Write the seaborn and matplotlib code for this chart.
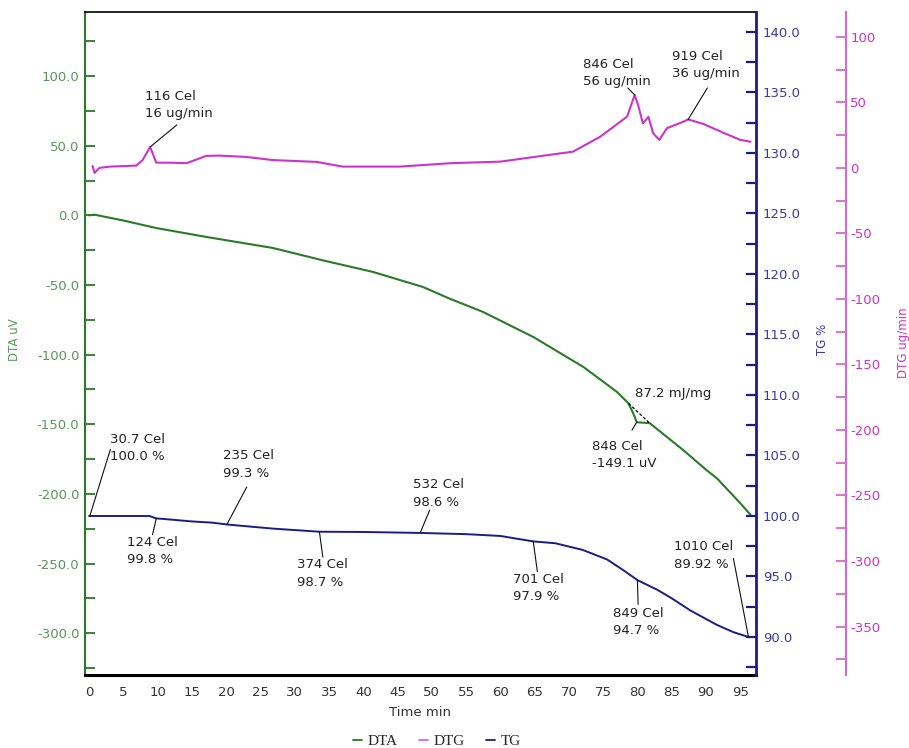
import numpy as np
import matplotlib
matplotlib.use("Agg")
import matplotlib.pyplot as plt
from matplotlib.ticker import MultipleLocator, FormatStrFormatter
from matplotlib.lines import Line2D
import seaborn as sns

dta_time = [0.0, 0.8, 4.9, 9.8, 17.1, 26.8, 34.1, 41.4, 48.7, 52.6, 57.5,
            64.8, 72.1, 77.0, 78.7, 79.4, 79.9, 81.8, 86.7, 90.1, 91.6, 95.0, 96.5]
dta_uv = [0.0, 0.5, -3.6, -9.1, -15.5, -23.4, -32.3, -40.6, -51.4, -59.8, -69.4,
          -87.3, -108.8, -126.7, -135.0, -142.3, -148.5, -149.2, -168.6, -183.0, -188.8, -206.6, -215.0]

dtg_time = [0.5, 0.8, 1.5, 3.0, 6.9, 7.8, 8.9, 9.8, 12.0, 14.2, 17.1, 19.0, 22.9, 26.8, 33.2,
            37.0, 45.3, 52.7, 60.0, 67.2, 70.6, 74.6, 78.5, 79.6, 80.1, 80.8, 81.6, 82.3,
            83.2, 84.3, 86.7, 87.4, 89.6, 92.6, 95.0, 96.5]
dtg_rate = [1.5, -3.8, 0.0, 1.0, 1.8, 6.0, 16.0, 4.0, 4.0, 3.6, 9.2, 9.4, 8.4, 6.0, 4.6,
            1.0, 1.0, 3.6, 4.8, 10.0, 12.4, 23.9, 39.2, 55.7, 48.0, 34.0, 39.0, 26.4,
            21.4, 30.3, 35.3, 37.0, 33.6, 26.7, 21.4, 20.0]

tg_time = [0.0, 8.8, 9.8, 11.0, 15.0, 18.0, 20.1, 24.0, 27.0, 31.0, 33.6, 40.0, 48.3, 55.0,
           60.0, 64.8, 68.0, 72.0, 75.6, 78.0, 80.0, 82.9, 85.0, 87.7, 91.6, 94.0, 96.2]
tg_pct = [100.0, 100.0, 99.8, 99.75, 99.55, 99.45, 99.3, 99.1, 98.95, 98.8, 98.7, 98.68, 98.6, 98.5,
          98.35, 97.9, 97.75, 97.2, 96.4, 95.5, 94.7, 93.9, 93.2, 92.2, 91.0, 90.4, 90.0]

# linea base del pico DTA (indices en dta_time)
pico_inicio, pico_fin = 14, 17

# etiquetas: (texto, posicion texto, inicio linea, punto en curva)
notas_dtg = [
    ("116 Cel\n16 ug/min", (8.1, 59.5), (12.8, 32.8), (8.9, 16.0)),
    ("846 Cel\n56 ug/min", (72.1, 84.0), (78.6, 61.0), (79.6, 55.7)),
    ("919 Cel\n36 ug/min", (85.1, 90.0), (90.2, 61.0), (87.4, 37.0)),
]
notas_dta = [
    ("848 Cel\n-149.1 uV", (73.4, -161.0), (79.2, -154.2), (79.9, -148.5)),
]
notas_tg = [
    ("30.7 Cel\n100.0 %", (3.0, 106.9), (3.1, 105.5), (0.1, 100.0)),
    ("235 Cel\n99.3 %", (19.5, 105.5), (23.0, 102.4), (20.1, 99.3)),
    ("124 Cel\n99.8 %", (5.6, 98.35), (9.25, 98.45), (9.8, 99.8)),
    ("374 Cel\n98.7 %", (30.4, 96.5), (34.1, 96.6), (33.6, 98.7)),
    ("532 Cel\n98.6 %", (47.2, 103.1), (49.7, 100.5), (48.3, 98.6)),
    ("701 Cel\n97.9 %", (61.8, 95.3), (65.4, 95.4), (64.8, 97.9)),
    ("849 Cel\n94.7 %", (76.4, 92.5), (80.1, 92.7), (80.0, 94.7)),
    ("1010 Cel\n89.92 %", (85.4, 98.0), (94.0, 96.5), (96.2, 90.0)),
]

c_dta = "#2a7a2a"
c_dta_txt = "#5b965b"
c_tg = "#1c1c86"
c_tg_txt = "#3a3aa6"
c_dtg = "#cc33cc"
c_dtg_ax = "#d668d6"

sns.set_style("white")
plt.rcParams['font.family'] = ['DejaVu Sans']
plt.rcParams['axes.unicode_minus'] = False

fig = plt.figure(figsize=(9.09, 7.48), dpi=100)
ax = fig.add_axes([85 / 909, 1 - 675 / 748, 671 / 909, 663 / 748])
ax_tg = ax.twinx()
ax_dtg = ax.twinx()

sns.lineplot(x=dta_time, y=dta_uv, ax=ax, color=c_dta, lw=1.5, legend=False)
sns.lineplot(x=dtg_time, y=dtg_rate, ax=ax_dtg, color=c_dtg, lw=1.5, legend=False)
sns.lineplot(x=tg_time, y=tg_pct, ax=ax_tg, color=c_tg, lw=1.4, legend=False)

ax.set_xlim(-0.6, 97.3)
ax.set_ylim(-330, 146)
ax_tg.set_ylim(86.86, 141.65)
ax_dtg.set_ylim(-387, 119)

# ejes
for a in (ax, ax_tg, ax_dtg):
    a.set_xlabel("")
    a.set_ylabel("")
    for s in a.spines.values():
        s.set_visible(False)

ax.spines['left'].set_visible(True)
ax.spines['left'].set_color(c_dta)
ax.spines['left'].set_linewidth(1.5)
ax.spines['bottom'].set_visible(True)
ax.spines['bottom'].set_color("black")
ax.spines['bottom'].set_linewidth(2.2)
ax.spines['top'].set_visible(True)
ax.spines['top'].set_color("black")
ax.spines['top'].set_linewidth(1.2)
ax_tg.spines['right'].set_visible(True)
ax_tg.spines['right'].set_color(c_tg)
ax_tg.spines['right'].set_linewidth(2.0)
ax_dtg.spines['right'].set_visible(True)
ax_dtg.spines['right'].set_position(('axes', (846 - 85) / 671))
ax_dtg.spines['right'].set_color(c_dtg_ax)
ax_dtg.spines['right'].set_linewidth(1.5)

ax.xaxis.set_major_locator(MultipleLocator(5))
ax.tick_params(axis='x', direction='in', length=7, width=1.2, color='black',
               labelsize=9.5, labelcolor='#333333', pad=8, top=False)

ax.yaxis.set_major_locator(MultipleLocator(50))
ax.yaxis.set_minor_locator(MultipleLocator(25))
ax.yaxis.set_major_formatter(FormatStrFormatter('%.1f'))
ax.tick_params(axis='y', which='both', direction='in', length=7, width=1.3, color=c_dta,
               labelsize=9.5, labelcolor=c_dta_txt, pad=4)

ax_tg.yaxis.set_major_locator(MultipleLocator(5))
ax_tg.yaxis.set_minor_locator(MultipleLocator(2.5))
ax_tg.yaxis.set_major_formatter(FormatStrFormatter('%.1f'))
ax_tg.tick_params(axis='y', which='both', direction='in', length=7, width=1.6, color=c_tg,
                  labelsize=9.5, labelcolor=c_tg_txt, pad=5)

ax_dtg.yaxis.set_major_locator(MultipleLocator(50))
ax_dtg.yaxis.set_minor_locator(MultipleLocator(25))
ax_dtg.yaxis.set_major_formatter(FormatStrFormatter('%d'))
ax_dtg.tick_params(axis='y', which='both', direction='in', length=7, width=1.3, color=c_dtg_ax,
                   labelsize=9.5, labelcolor=c_dtg, pad=3)

# anotaciones
def anotar(a, notas):
    for texto, pos, ini, punto in notas:
        a.text(pos[0], pos[1], texto, ha='left', va='top', fontsize=9.5,
               color='#222222', linespacing=1.45, zorder=5)
        a.annotate('', xy=punto, xytext=ini,
                   arrowprops=dict(arrowstyle='-', color='#111111', lw=0.8,
                                   shrinkA=0, shrinkB=0))

anotar(ax_dtg, notas_dtg)
anotar(ax, notas_dta)
anotar(ax_tg, notas_tg)

ax.plot([dta_time[pico_inicio], dta_time[pico_fin]], [dta_uv[pico_inicio], dta_uv[pico_fin]],
        color='black', lw=0.9, ls=(0, (2.5, 1.5)))
ax.text(79.7, -127.7, "87.2 mJ/mg", ha='left', va='center', fontsize=9.5, color='#222222')

# etiquetas de ejes
fig.text(15 / 909, 1 - 340 / 748, "DTA uV", rotation=90, ha='center', va='center',
         fontsize=8.5, color=c_dta_txt)
fig.text(823 / 909, 1 - 339 / 748, "TG %", rotation=90, ha='center', va='center',
         fontsize=8.5, color=c_tg_txt)
fig.text(903 / 909, 1 - 343 / 748, "DTG ug/min", rotation=90, ha='center', va='center',
         fontsize=8.5, color=c_dtg)
fig.text(420 / 909, 1 - 713 / 748, "Time min", ha='center', va='center',
         fontsize=9.5, color='#333333')

handles = [Line2D([], [], color=c_dta, lw=1.3),
           Line2D([], [], color=c_dtg_ax, lw=1.3),
           Line2D([], [], color=c_tg, lw=1.3)]
fig.legend(handles, ["DTA", "DTG", "TG"], loc='center', bbox_to_anchor=(437 / 909, 1 - 741 / 748),
           ncol=3, frameon=False, handlelength=0.6, handletextpad=0.35, columnspacing=1.4,
           prop={'family': 'Liberation Serif', 'size': 11})

fig.savefig("out.png", dpi=100)
